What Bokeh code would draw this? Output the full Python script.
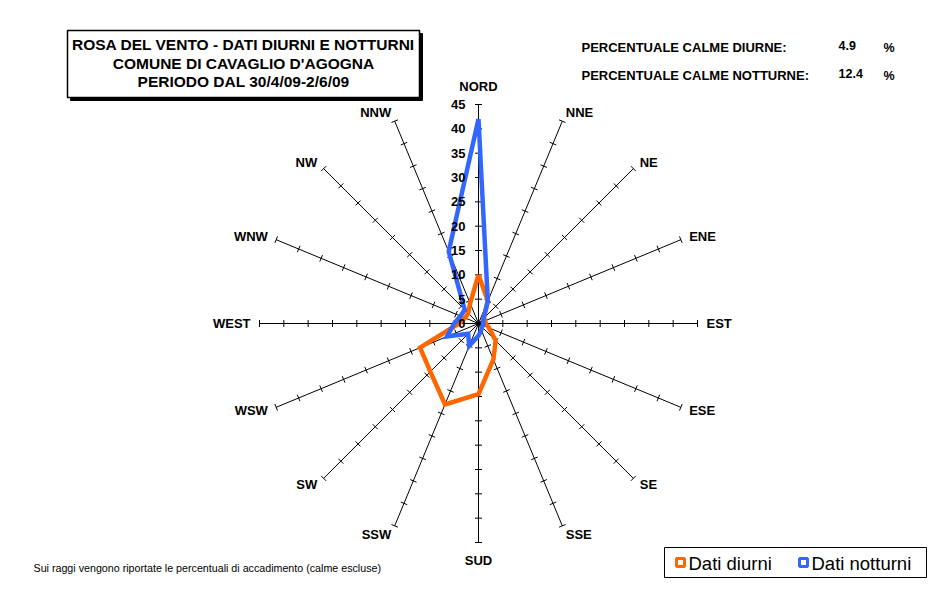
import numpy as np
from bokeh.plotting import figure
from bokeh.models import Range1d, Label
from bokeh.embed import file_html
from bokeh.resources import INLINE

# ---------------- data ----------------
directions = ["NORD", "NNE", "NE", "ENE", "EST", "ESE", "SE", "SSE",
              "SUD", "SSW", "SW", "WSW", "WEST", "WNW", "NW", "NNW"]
dati_diurni = [10, 5, 1.5, 1.5, 1.5, 2.3, 5, 8, 14.5, 18, 14, 13, 4, 3, 3, 4.5]
dati_notturni = [42, 5, 1.5, 1, 1, 1, 1, 1.5, 2.5, 5, 3, 7, 5, 4, 4, 16]
radial_ticks = [0, 5, 10, 15, 20, 25, 30, 35, 40, 45]
series_names = ["Dati diurni", "Dati notturni"]
calme_labels = ["PERCENTUALE CALME DIURNE:", "PERCENTUALE CALME NOTTURNE:"]
calme_values = ["4.9", "12.4"]
title_lines = ["ROSA DEL VENTO - DATI DIURNI E NOTTURNI",
               "COMUNE DI CAVAGLIO D'AGOGNA",
               "PERIODO DAL 30/4/09-2/6/09"]
note_text = "Sui raggi vengono riportate le percentuali di accadimento (calme escluse)"

# ---------------- layout helpers ----------------
W, H = 935, 584
RMAX = radial_ticks[-1]
K = 219.0 / RMAX            # pixels per percent unit
CXP, CYP = 478, 323         # pole position in picture pixels
FONT = "Liberation Sans"
ORANGE = "#FF6600"
BLUE = "#3366FF"


def dx(px):
    return (px - CXP) / K


def dy(py):
    return (CYP - py) / K


p = figure(width=W, height=H, output_backend="svg", toolbar_location=None,
           x_range=Range1d(dx(0), dx(W)), y_range=Range1d(dy(H), dy(0)),
           x_axis_type=None, y_axis_type=None, min_border=0)
p.outline_line_color = None
p.background_fill_color = "white"
p.border_fill_color = "white"

theta = np.deg2rad(np.arange(len(directions)) * 360.0 / len(directions))
s, c = np.sin(theta), np.cos(theta)

# spokes
p.segment(x0=np.zeros(len(s)), y0=np.zeros(len(s)), x1=RMAX * s, y1=RMAX * c,
          line_color="black", line_width=1)

# ticks along spokes
h = 3.5 / K
tx0, ty0, tx1, ty1 = [], [], [], []
for si, ci in zip(s, c):
    for r in radial_ticks[1:]:
        px_, py_ = r * si, r * ci
        tx0.append(px_ + h * ci); ty0.append(py_ - h * si)
        tx1.append(px_ - h * ci); ty1.append(py_ + h * si)
p.segment(x0=tx0, y0=ty0, x1=tx1, y1=ty1, line_color="black", line_width=1)

# radial tick labels on the north spoke
for r in radial_ticks:
    p.add_layout(Label(x=0, y=r, text=str(r), x_offset=-13, text_align="right",
                       text_baseline="middle", text_font=FONT, text_font_size="13px",
                       text_font_style="bold", text_color="black"))

# direction labels
for name, si, ci in zip(directions, s, c):
    if abs(si) < 1e-6:
        off = 18.0 / K
        al = "center"
    else:
        off = 9.0 / K
        al = "left" if si > 0 else "right"
    p.add_layout(Label(x=(RMAX + off) * si, y=(RMAX + off) * ci, text=name,
                       text_align=al, text_baseline="middle", text_font=FONT,
                       text_font_size="13px", text_font_style="bold", text_color="black"))

# series
for vals, col in ((dati_diurni, ORANGE), (dati_notturni, BLUE)):
    v = np.array(vals + vals[:1], dtype=float)
    ss = np.append(s, s[0]); cc = np.append(c, c[0])
    p.line(v * ss, v * cc, line_color=col, line_width=4.5, line_join="miter")

# title box with shadow
p.quad(left=dx(70), right=dx(422), top=dy(33), bottom=dy(100),
       fill_color="black", line_color="black")
p.quad(left=dx(67), right=dx(419), top=dy(30), bottom=dy(97),
       fill_color="white", line_color="black", line_width=1.5)
for i, t in enumerate(title_lines):
    p.add_layout(Label(x=dx(243), y=dy(44 + 18.5 * i), text=t, text_align="center",
                       text_baseline="middle", text_font=FONT, text_font_size="15.5px",
                       text_font_style="bold", text_color="black"))

# calm percentages
for i, (lab, val) in enumerate(zip(calme_labels, calme_values)):
    yy = 47 + 28 * i
    p.add_layout(Label(x=dx(581), y=dy(yy), text=lab, text_align="left",
                       text_baseline="middle", text_font=FONT, text_font_size="13px",
                       text_font_style="bold", text_color="black"))
    p.add_layout(Label(x=dx(838), y=dy(yy - 2.5), text=val, text_align="left",
                       text_baseline="middle", text_font=FONT, text_font_size="12.5px",
                       text_font_style="bold", text_color="black"))
    p.add_layout(Label(x=dx(883), y=dy(yy), text="%", text_align="left",
                       text_baseline="middle", text_font=FONT, text_font_size="12.5px",
                       text_font_style="bold", text_color="black"))

# legend
p.quad(left=dx(664), right=dx(926), top=dy(547), bottom=dy(577),
       fill_color="white", line_color="black", line_width=1)
leg_x = [680, 803]
for name, col, lx in zip(series_names, (ORANGE, BLUE), leg_x):
    p.scatter(x=[dx(lx)], y=[dy(562)], marker="square", size=8, line_width=3,
              line_color=col, fill_color="white")
    p.add_layout(Label(x=dx(lx + 8), y=dy(563), text=name, text_align="left",
                       text_baseline="middle", text_font=FONT, text_font_size="18.5px",
                       text_color="black"))

# note
p.add_layout(Label(x=dx(33), y=dy(567), text=note_text, text_align="left",
                   text_baseline="middle", text_font=FONT, text_font_size="10.7px",
                   text_color="black"))

open("out.html", "w").write(file_html(p, INLINE))
